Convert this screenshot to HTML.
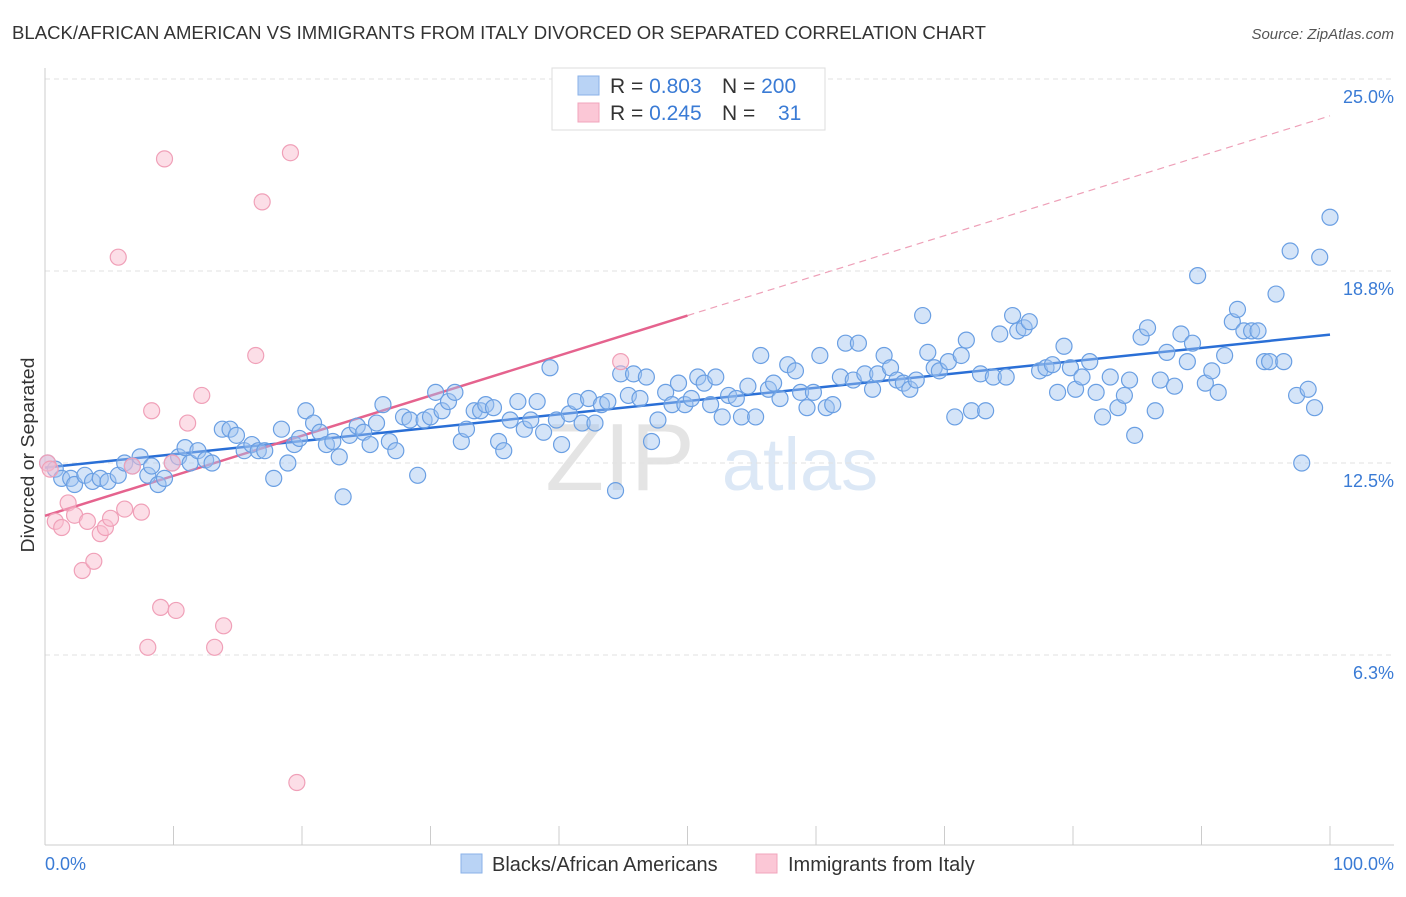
<!DOCTYPE html>
<html><head><meta charset="utf-8"><style>
body{margin:0;background:#fff;font-family:"Liberation Sans",sans-serif}
svg text{font-family:"Liberation Sans",sans-serif}
</style></head><body>
<svg id="chart" width="1406" height="892">
<text x="12" y="39" font-size="18" fill="#333" textLength="974" lengthAdjust="spacingAndGlyphs">BLACK/AFRICAN AMERICAN VS IMMIGRANTS FROM ITALY DIVORCED OR SEPARATED CORRELATION CHART</text>
<text x="1394" y="39" font-size="15" fill="#555" font-style="italic" text-anchor="end">Source: ZipAtlas.com</text>
<text x="620" y="490" font-size="96" fill="#e4e4e4" font-family="Liberation Serif" text-anchor="middle">ZIP</text>
<text x="800" y="490" font-size="74" fill="#dce8f6" text-anchor="middle">atlas</text>
<g id="grid"></g><g id="axes"></g><g id="trend"></g><g id="pts"></g>
<text x="34" y="455" font-size="18" fill="#333" text-anchor="middle" textLength="195" lengthAdjust="spacingAndGlyphs" transform="rotate(-90 34 455)">Divorced or Separated</text>
<text x="45" y="870" font-size="18" fill="#3a7bd5">0.0%</text>
<text x="1394" y="870" font-size="18" fill="#3a7bd5" text-anchor="end">100.0%</text>
<g>
<rect x="552" y="68" width="273" height="62" fill="#fff" stroke="#ddd"/>
<rect x="578" y="76" width="21" height="19" fill="#b9d3f5" stroke="#8ab2e8"/>
<rect x="578" y="103" width="21" height="19" fill="#fbc7d6" stroke="#f2a4bc"/>
<text x="610" y="93" font-size="21" fill="#333">R = <tspan fill="#3a7bd5">0.803</tspan><tspan x="722">N = </tspan><tspan fill="#3a7bd5">200</tspan></text>
<text x="610" y="120" font-size="21" fill="#333">R = <tspan fill="#3a7bd5">0.245</tspan><tspan x="722">N = </tspan><tspan x="778" fill="#3a7bd5">31</tspan></text>
</g>
<g>
<rect x="461" y="854" width="21" height="19" fill="#b9d3f5" stroke="#8ab2e8"/>
<text x="492" y="871" font-size="20" fill="#333">Blacks/African Americans</text>
<rect x="756" y="854" width="21" height="19" fill="#fbc7d6" stroke="#f2a4bc"/>
<text x="788" y="871" font-size="20" fill="#333">Immigrants from Italy</text>
</g>
</svg>
<script>
const yTicks=[6.25,12.5,18.75,25];
const yTickLabels=["6.3%","12.5%","18.8%","25.0%"];
const blueX=[0.2,0.8,1.3,2.0,2.3,3.1,3.7,4.3,4.9,5.7,6.2,6.8,7.4,8.0,8.3,8.8,9.3,9.9,10.4,10.9,11.3,11.9,12.5,13.0,13.8,14.4,14.9,15.5,16.1,16.6,17.1,17.8,18.4,18.9,19.4,19.8,20.3,20.9,21.4,21.9,22.4,22.9,23.2,23.7,24.3,24.8,25.3,25.8,26.3,26.8,27.3,27.9,28.4,29.0,29.5,30.0,30.4,30.9,31.4,31.9,32.4,32.8,33.4,33.9,34.3,34.9,35.3,35.7,36.2,36.8,37.3,37.8,38.3,38.8,39.3,39.8,40.2,40.8,41.3,41.8,42.3,42.8,43.3,43.8,44.4,44.8,45.4,45.8,46.3,46.8,47.2,47.7,48.3,48.8,49.3,49.8,50.3,50.8,51.3,51.8,52.2,52.7,53.2,53.8,54.2,54.7,55.3,55.7,56.3,56.7,57.2,57.8,58.4,58.8,59.3,59.8,60.3,60.8,61.3,61.9,62.3,62.9,63.3,63.8,64.4,64.8,65.3,65.8,66.3,66.8,67.3,67.8,68.3,68.7,69.2,69.6,70.3,70.8,71.3,71.7,72.1,72.8,73.2,73.8,74.3,74.8,75.3,75.7,76.2,76.6,77.4,77.9,78.4,78.8,79.3,79.8,80.2,80.7,81.3,81.8,82.3,82.9,83.5,84.0,84.4,84.8,85.3,85.8,86.4,86.8,87.3,87.9,88.4,88.9,89.3,89.7,90.3,90.8,91.3,91.8,92.4,92.8,93.3,93.9,94.4,94.9,95.3,96.4,96.9,97.4,97.8,98.3,98.8,99.2,100,95.8];
const blueY=[12.5,12.3,12.0,12.0,11.8,12.1,11.9,12.0,11.9,12.1,12.5,12.4,12.7,12.1,12.4,11.8,12.0,12.5,12.7,13.0,12.5,12.9,12.6,12.5,13.6,13.6,13.4,12.9,13.1,12.9,12.9,12.0,13.6,12.5,13.1,13.3,14.2,13.8,13.5,13.1,13.2,12.7,11.4,13.4,13.7,13.5,13.1,13.8,14.4,13.2,12.9,14.0,13.9,12.1,13.9,14.0,14.8,14.2,14.5,14.8,13.2,13.6,14.2,14.2,14.4,14.3,13.2,12.9,13.9,14.5,13.6,13.9,14.5,13.5,15.6,13.9,13.1,14.1,14.5,13.8,14.6,13.8,14.4,14.5,11.6,15.4,14.7,15.4,14.6,15.3,13.2,13.9,14.8,14.4,15.1,14.4,14.6,15.3,15.1,14.4,15.3,14.0,14.7,14.6,14.0,15.0,14.0,16.0,14.9,15.1,14.6,15.7,15.5,14.8,14.3,14.8,16.0,14.3,14.4,15.3,16.4,15.2,16.4,15.4,14.9,15.4,16.0,15.6,15.2,15.1,14.9,15.2,17.3,16.1,15.6,15.5,15.8,14.0,16.0,16.5,14.2,15.4,14.2,15.3,16.7,15.3,17.3,16.8,16.9,17.1,15.5,15.6,15.7,14.8,16.3,15.6,14.9,15.3,15.8,14.8,14.0,15.3,14.3,14.7,15.2,13.4,16.6,16.9,14.2,15.2,16.1,15.0,16.7,15.8,16.4,18.6,15.1,15.5,14.8,16.0,17.1,17.5,16.8,16.8,16.8,15.8,15.8,15.8,19.4,14.7,12.5,14.9,14.3,19.2,20.5,18.0];
const pinkX=[0.2,0.4,0.8,1.3,1.8,2.3,2.9,3.3,3.8,4.3,4.7,5.1,5.7,6.2,6.8,7.5,8.0,8.3,9.0,9.3,9.9,10.2,11.1,12.2,13.2,13.9,16.4,16.9,19.1,19.6,44.8];
const pinkY=[12.5,12.3,10.6,10.4,11.2,10.8,9.0,10.6,9.3,10.2,10.4,10.7,19.2,11.0,12.4,10.9,6.5,14.2,7.8,22.4,12.5,7.7,13.8,14.7,6.5,7.2,16.0,21.0,22.6,2.1,15.8];
const blueTrend=[[0,12.35],[100,16.68]];
const pinkTrend=[[0,10.78],[50,17.3],[100,23.8]];
const NS="http://www.w3.org/2000/svg";
const X=v=>45+v*12.85, Y=v=>847-v*30.72;
function mk(tag,attrs,parent){const e=document.createElementNS(NS,tag);for(const k in attrs)e.setAttribute(k,attrs[k]);parent.appendChild(e);return e;}
const grid=document.getElementById('grid'),axes=document.getElementById('axes'),tr=document.getElementById('trend'),pts=document.getElementById('pts');
yTicks.forEach((t,i)=>{
 const l=mk('line',{x1:45,x2:1394,y1:Y(t),y2:Y(t),stroke:'#e2e2e2','stroke-dasharray':'5,4'},grid);
 
 
 const tx=mk('text',{x:1394,y:Y(t)+24,'font-size':18,fill:'#3a7bd5','text-anchor':'end'},grid);
 tx.textContent=yTickLabels[i];
 
 
});
const xa=mk('line',{x1:45,x2:1394,y1:845,y2:845,stroke:'#ccc'},axes);


const ya=mk('line',{x1:45,x2:45,y1:68,y2:845,stroke:'#ccc'},axes);


for(let i=0;i<=10;i++){
 const t=mk('line',{x1:X(i*10),x2:X(i*10),y1:826,y2:845,stroke:'#ccc'},axes);
 
 
}
const bl=mk('line',{x1:X(blueTrend[0][0]),y1:Y(blueTrend[0][1]),x2:X(blueTrend[1][0]),y2:Y(blueTrend[1][1]),stroke:'#2a6fd6','stroke-width':2.5},tr);


const pl=mk('line',{x1:X(pinkTrend[0][0]),y1:Y(pinkTrend[0][1]),x2:X(pinkTrend[1][0]),y2:Y(pinkTrend[1][1]),stroke:'#e5638e','stroke-width':2.5},tr);


const pd=mk('line',{x1:X(pinkTrend[1][0]),y1:Y(pinkTrend[1][1]),x2:X(pinkTrend[2][0]),y2:Y(pinkTrend[2][1]),stroke:'#eea0b8','stroke-width':1.2,'stroke-dasharray':'7,5'},tr);


blueX.forEach((x,i)=>{
 const c=mk('circle',{cx:X(x),cy:Y(blueY[i]),r:8,fill:'rgba(160,195,240,0.45)',stroke:'#6a9fe3','stroke-width':1.2},pts);
 
 
});
pinkX.forEach((x,i)=>{
 const c=mk('circle',{cx:X(x),cy:Y(pinkY[i]),r:8,fill:'rgba(250,190,208,0.5)',stroke:'#f0a0b8','stroke-width':1.2},pts);
 
 
});
</script>
</body></html>
